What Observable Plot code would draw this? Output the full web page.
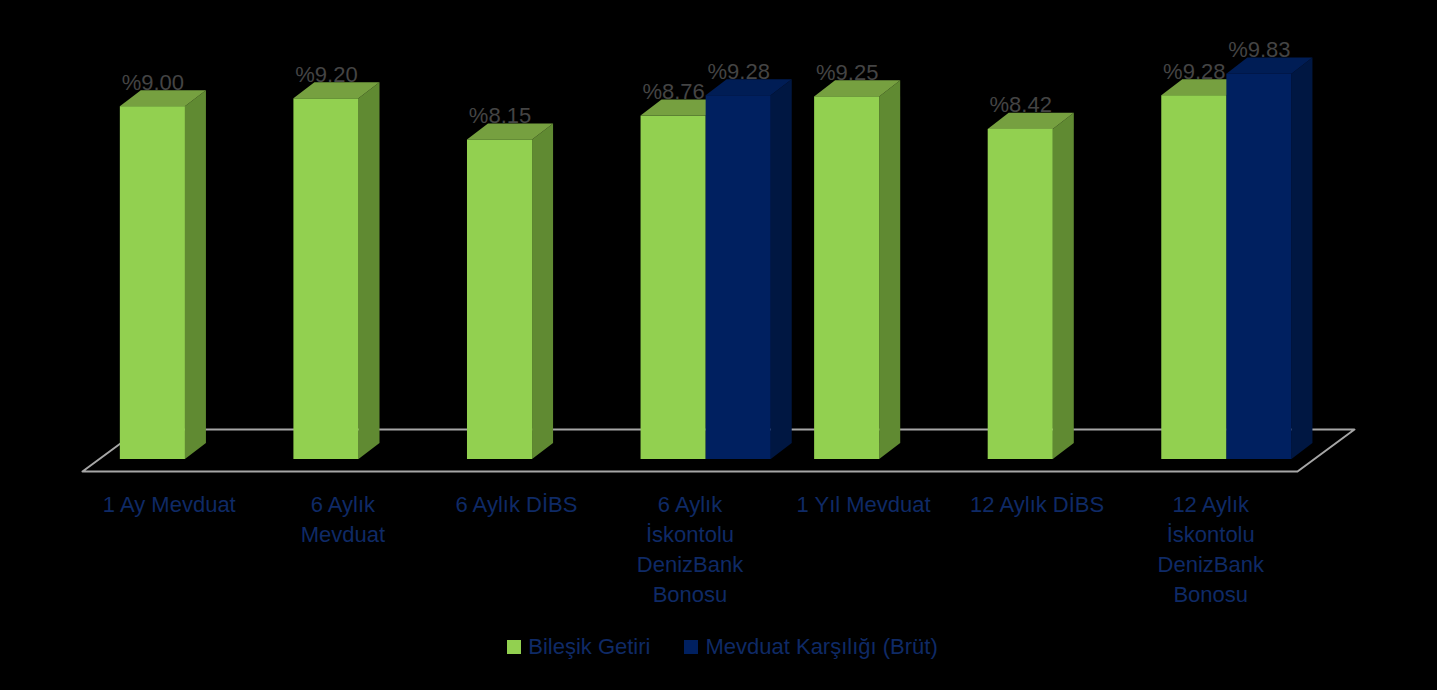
<!DOCTYPE html>
<html>
<head>
<meta charset="utf-8">
<script src="https://cdn.jsdelivr.net/npm/d3@7"></script>
<script src="https://cdn.jsdelivr.net/npm/@observablehq/plot@0.6"></script>
<style>
  html, body { margin: 0; padding: 0; background: #000; }
  #chart svg { display: block; }
  .legend {
    display: flex; justify-content: center; align-items: center;
    gap: 34px; margin-top: 10px; padding-left: 8px;
    font-family: "Liberation Sans", Arial, sans-serif; font-size: 22px; color: #0f2a66;
    height: 24px; line-height: 24px;
  }
  .legend span.sw { display: inline-block; width: 14px; height: 14px; margin-right: 7px; vertical-align: middle; }
  .legend .item { display: flex; align-items: center; }
</style>
</head>
<body>
<div id="chart"></div>
<div class="legend" id="legend"></div>
<script>
// ---- data ----
const categories = [
  "1 Ay Mevduat",
  "6 Aylık Mevduat",
  "6 Aylık DİBS",
  "6 Aylık İskontolu DenizBank Bonosu",
  "1 Yıl Mevduat",
  "12 Aylık DİBS",
  "12 Aylık İskontolu DenizBank Bonosu"
];
const categoryLabels = [
  "1 Ay Mevduat",
  "6 Aylık\nMevduat",
  "6 Aylık DİBS",
  "6 Aylık\nİskontolu\nDenizBank\nBonosu",
  "1 Yıl Mevduat",
  "12 Aylık DİBS",
  "12 Aylık\nİskontolu\nDenizBank\nBonosu"
];
const seriesNames = ["Bileşik Getiri", "Mevduat Karşılığı (Brüt)"];
const bilesikGetiri = [9.00, 9.20, 8.15, 8.76, 9.25, 8.42, 9.28];
const mevduatKarsiligi = [null, null, null, 9.28, null, null, 9.83];

// ---- styles ----
const faceColors = {
  "Bileşik Getiri": {front: "#92d050", top: "#76a040", side: "#608a32"},
  "Mevduat Karşılığı (Brüt)": {front: "#002060", top: "#001d55", side: "#001742"}
};
const BAR_W = 0.375;      // bar width in category units
const GREEN_OFF = -0.282; // left edge of first bar relative to category center
const DEPTH_X = 0.121;    // 3D depth offset (x, category units)
const DEPTH_Y = 0.41;     // 3D depth offset (y, value units)

// ---- build rows ----
const rows = [];
[bilesikGetiri, mevduatKarsiligi].forEach((vals, s) => {
  vals.forEach((v, i) => {
    if (v == null) return;
    const left = i + GREEN_OFF + s * BAR_W;
    rows.push({i, series: seriesNames[s], value: v, left, right: left + BAR_W, id: `${s}-${i}`});
  });
});

const topPts = rows.flatMap(d => [
  {id: d.id, series: d.series, x: d.left, y1: d.value, y2: d.value},
  {id: d.id, series: d.series, x: d.left + DEPTH_X, y1: d.value, y2: d.value + DEPTH_Y},
  {id: d.id, series: d.series, x: d.right, y1: d.value, y2: d.value + DEPTH_Y},
  {id: d.id, series: d.series, x: d.right + DEPTH_X, y1: d.value + DEPTH_Y, y2: d.value + DEPTH_Y}
]);
const sidePts = rows.flatMap(d => [
  {id: d.id, series: d.series, x: d.right, y1: 0, y2: d.value},
  {id: d.id, series: d.series, x: d.right + DEPTH_X, y1: DEPTH_Y, y2: d.value + DEPTH_Y}
]);

// floor outline (front edge below the bars, back edge behind them)
const n = categories.length;
const FLOOR_FRONT = -0.306, FLOOR_BACK = 0.765, FLOOR_DX = 0.328;
const floorPts = [
  {x: -0.5, y: FLOOR_FRONT},
  {x: n - 0.5, y: FLOOR_FRONT},
  {x: n - 0.5 + FLOOR_DX, y: FLOOR_BACK},
  {x: -0.5 + FLOOR_DX, y: FLOOR_BACK},
  {x: -0.5, y: FLOOR_FRONT}
];

const fam = '"Liberation Sans", Arial, sans-serif';

const chart = Plot.plot({
  width: 1437,
  height: 625,
  marginLeft: 82,
  marginRight: 140,
  marginTop: 67,
  marginBottom: 166,
  style: {background: "#000", fontFamily: fam, overflow: "visible"},
  x: {domain: [-0.5, n - 0.5], axis: null},
  y: {domain: [0, 10], axis: null},
  marks: [
    Plot.line(floorPts, {x: "x", y: "y", stroke: "#a6a6a6", strokeWidth: 2}),
    // value labels sit behind the bars, as in the original
    Plot.text(rows, {
      x: d => (d.left + d.right) / 2, y: d => d.value + DEPTH_Y,
      text: d => "%" + d.value.toFixed(2),
      fill: "#444444", fontSize: 22, lineAnchor: "bottom", textAnchor: "middle", dy: -1
    }),
    Plot.area(sidePts, {x1: "x", y1: "y1", y2: "y2", z: "id", fill: d => faceColors[d.series].side, curve: "linear"}),
    Plot.area(topPts, {x1: "x", y1: "y1", y2: "y2", z: "id", fill: d => faceColors[d.series].top, curve: "linear"}),
    Plot.rect(rows, {x1: "left", x2: "right", y1: 0, y2: "value", fill: d => faceColors[d.series].front}),
    Plot.text(categoryLabels, {
      x: (d, i) => i, y: 0, text: d => d,
      fill: "#0f2a66", fontSize: 22, lineAnchor: "top", lineHeight: 1.36, dy: 31, textAnchor: "middle"
    })
  ]
});
document.getElementById("chart").appendChild(chart);

// legend
const legend = document.getElementById("legend");
seriesNames.forEach(s => {
  const item = document.createElement("div");
  item.className = "item";
  const sw = document.createElement("span");
  sw.className = "sw";
  sw.style.background = faceColors[s].front;
  item.appendChild(sw);
  item.appendChild(document.createTextNode(s));
  legend.appendChild(item);
});
</script>
</body>
</html>
